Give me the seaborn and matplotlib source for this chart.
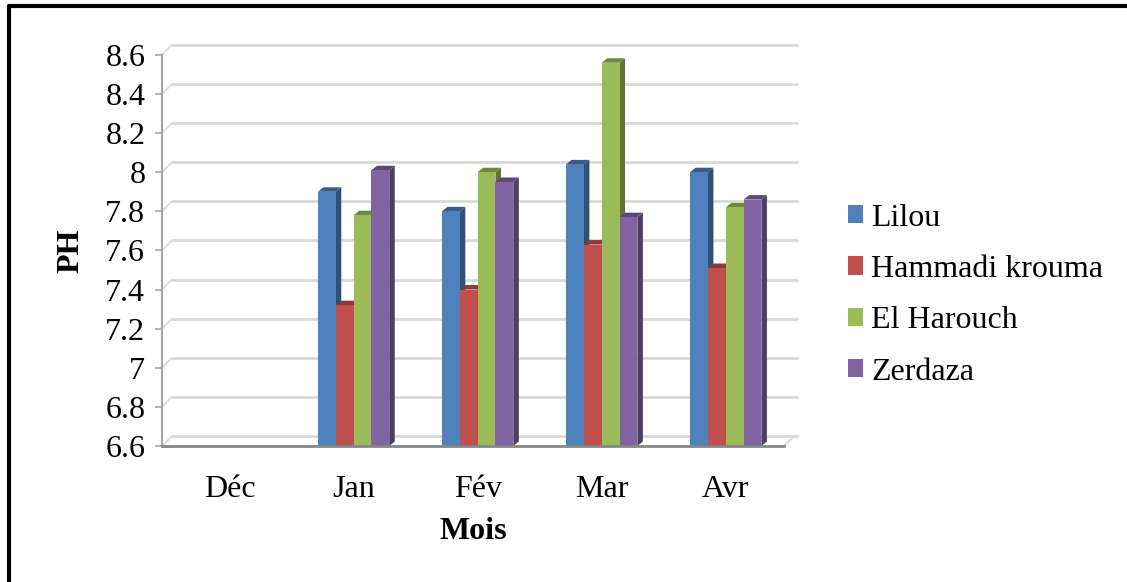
import numpy as np
import pandas as pd
import seaborn as sns
import matplotlib.pyplot as plt
from matplotlib.patches import Polygon
from matplotlib.lines import Line2D
from matplotlib.colors import to_rgb

# pH per month and site (Déc has no data)
months = ['Déc', 'Jan', 'Fév', 'Mar', 'Avr']
sites = ['Lilou', 'Hammadi krouma', 'El Harouch', 'Zerdaza']
lilou = [np.nan, 7.90, 7.80, 8.04, 8.00]
hammadi = [np.nan, 7.32, 7.40, 7.63, 7.51]
harouch = [np.nan, 7.78, 8.00, 8.56, 7.82]
zerdaza = [np.nan, 8.01, 7.95, 7.77, 7.86]
yticks = [6.6, 6.8, 7.0, 7.2, 7.4, 7.6, 7.8, 8.0, 8.2, 8.4, 8.6]
ytick_labels = ['6.6', '6.8', '7', '7.2', '7.4', '7.6', '7.8', '8', '8.2', '8.4', '8.6']

colors = ['#4F81BD', '#C0504D', '#9BBB59', '#8064A2']

df = pd.DataFrame({
    'Mois': months * 4,
    'Site': np.repeat(sites, len(months)),
    'PH': lilou + hammadi + harouch + zerdaza,
})

sns.set_style('white')
plt.rcParams['font.family'] = ['Liberation Serif', 'DejaVu Serif']
plt.rcParams['text.color'] = 'black'
plt.rcParams['axes.labelcolor'] = 'black'
plt.rcParams['xtick.labelcolor'] = 'black'
plt.rcParams['ytick.labelcolor'] = 'black'
fs = 23

fig = plt.figure(figsize=(11.27, 5.82), dpi=100)
ax = fig.add_axes([0.1437, 0.2337, 0.552, 0.672])

sns.barplot(data=df, x='Mois', y='PH', hue='Site', order=months, hue_order=sites,
            palette=colors, width=0.575, gap=0, saturation=1, errorbar=None,
            edgecolor='none', ax=ax, zorder=3)

ymin, ymax = 6.6, 8.6
ax.set_ylim(ymin, ymax)
ax.set_xlim(-0.545, 4.47)

# pixel -> data scale for the fake 3D depth
ppx = 622 / (4.47 + 0.545)
ppy = 391 / (ymax - ymin)


def darker(c, f):
    r, g, b = to_rgb(c)
    return (r * f, g * f, b * f)


# 3D side and top faces of every bar
dx, dy = 5.5 / ppx, 4.5 / ppy
for i, cont in enumerate(ax.containers):
    for p in cont.patches:
        h = p.get_height()
        if not np.isfinite(h) or h == 0:
            continue
        x0 = p.get_x()
        x1 = x0 + p.get_width()
        y1 = p.get_y() + h
        y0 = max(p.get_y(), ymin)
        p.set_zorder(3 + i * 0.1)
        side = Polygon([(x1, y0), (x1 + dx, y0 + dy), (x1 + dx, y1 + dy), (x1, y1)],
                       closed=True, facecolor=darker(colors[i], 0.62), edgecolor='none',
                       zorder=3 + i * 0.1 - 0.01, clip_on=False)
        top = Polygon([(x0, y1), (x0 + dx, y1 + dy), (x1 + dx, y1 + dy), (x1, y1)],
                      closed=True, facecolor=darker(colors[i], 0.72), edgecolor='none',
                      zorder=3 + i * 0.1 - 0.01, clip_on=False)
        ax.add_patch(side)
        ax.add_patch(top)

# back wall gridlines and floor
gx, gy = 10 / ppx, 10 / ppy
xmin, xmax = ax.get_xlim()
for v in yticks:
    ax.plot([xmin + gx, xmax + gx + 3 / ppx], [v + gy, v + gy], color='#D9D9D9',
            lw=2, zorder=1, clip_on=False)
    ax.plot([xmin, xmin + gx], [v, v + gy], color='#D9D9D9', lw=1.2, zorder=1, clip_on=False)
ax.plot([xmax, xmax + gx], [ymin, ymin + gy], color='#D9D9D9', lw=1.5, zorder=1, clip_on=False)

for s in ['top', 'right']:
    ax.spines[s].set_visible(False)
ax.spines['left'].set_color('#A6A6A6')
ax.spines['left'].set_linewidth(1.5)
ax.spines['bottom'].set_color('#868686')
ax.spines['bottom'].set_linewidth(2)
ax.spines['bottom'].set_zorder(5)

ax.set_yticks(yticks)
ax.set_yticklabels(ytick_labels)
ax.tick_params(axis='y', direction='out', length=5, width=1.2, color='#A6A6A6',
               pad=7, labelsize=fs, left=True, labelcolor='black')
ax.tick_params(axis='x', length=0, pad=21, labelsize=fs, labelcolor='black')

ax.set_xlabel('Mois', fontsize=fs, fontweight='bold', labelpad=9, color='black')
ax.set_ylabel('PH', fontsize=fs, fontweight='bold', labelpad=14, color='black')

handles, labels = ax.get_legend_handles_labels()
leg = ax.legend(handles, labels, loc='center left', bbox_to_anchor=(0.752, 0.493),
                bbox_transform=fig.transFigure, frameon=False, fontsize=fs,
                handlelength=0.5, handleheight=0.5, handletextpad=0.25,
                labelspacing=0.7, borderpad=0, borderaxespad=0)
for t in leg.get_texts():
    t.set_color('black')

# outer frame (top and left edges visible)
fig.add_artist(Line2D([0.008, 1.0], [0.9897, 0.9897], color='black', lw=3,
                      transform=fig.transFigure))
fig.add_artist(Line2D([0.008, 0.008], [0.0, 0.9897], color='black', lw=3,
                      transform=fig.transFigure))

fig.savefig('out.png', dpi=100)
